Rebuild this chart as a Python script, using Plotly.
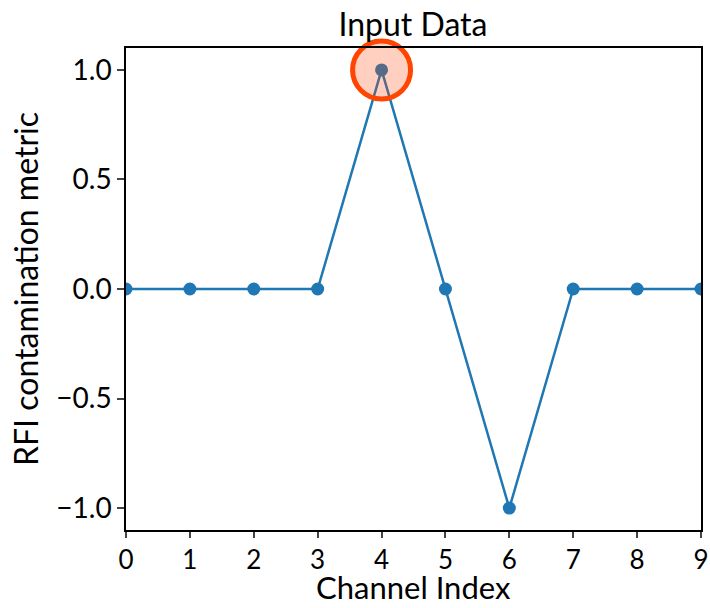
import plotly.graph_objects as go

channels = [0, 1, 2, 3, 4, 5, 6, 7, 8, 9]
rfi_metric = [0, 0, 0, 0, 1, 0, -1, 0, 0, 0]
highlight_x = [4]
highlight_y = [1]
x_ticks = [0, 1, 2, 3, 4, 5, 6, 7, 8, 9]
y_ticks = [-1.0, -0.5, 0.0, 0.5, 1.0]
y_tick_labels = ["\u22121.0", "\u22120.5", "0.0", "0.5", "1.0"]

FONT = "Lato"

fig = go.Figure()
fig.add_trace(go.Scatter(
    x=channels, y=rfi_metric, mode="lines+markers",
    line=dict(color="#1f77b4", width=2.5),
    marker=dict(color="#1f77b4", size=13),
    cliponaxis=True, showlegend=False,
))
fig.add_trace(go.Scatter(
    x=highlight_x, y=highlight_y, mode="markers",
    marker=dict(color="rgba(255,69,0,0.25)", size=58,
                line=dict(color="#ff4500", width=5)),
    cliponaxis=False, showlegend=False,
))

fig.update_layout(
    width=710, height=608,
    margin=dict(l=126, r=9, t=48, b=78, autoexpand=False),
    paper_bgcolor="white", plot_bgcolor="white",
    font=dict(family=FONT, color="black", size=28),
    title=dict(text="Input Data", x=0.5817, xanchor="center",
               yref="paper", y=1, yanchor="bottom", pad=dict(b=12),
               font=dict(family=FONT, size=32, color="black")),
    annotations=[dict(
        text="Channel Index", xref="paper", yref="paper", x=0.5, y=-0.1605,
        xanchor="center", yanchor="bottom", showarrow=False, borderpad=0,
        font=dict(family=FONT, size=31, color="black"),
    )],
)
fig.update_xaxes(
    range=[0, 9], tickvals=x_ticks, ticks="outside", ticklen=6, tickwidth=1.5,
    showline=True, linecolor="black", linewidth=1.5, mirror=True,
    showgrid=False, zeroline=False, automargin=False,
    tickfont=dict(family=FONT, size=26),
)
fig.update_yaxes(
    range=[-1.1, 1.1], tickvals=y_ticks, ticktext=y_tick_labels,
    ticks="outside", ticklen=7, tickwidth=1.5,
    showline=True, linecolor="black", linewidth=1.5, mirror=True,
    showgrid=False, zeroline=False, automargin=False,
    title=dict(text="RFI contamination metric", font=dict(family=FONT, size=32), standoff=8),
    tickfont=dict(family=FONT, size=28),
)

fig.write_html(
    "out.html",
    config={"displayModeBar": False},
    post_script="document.body.style.margin='0';document.body.style.overflow='hidden';",
)
